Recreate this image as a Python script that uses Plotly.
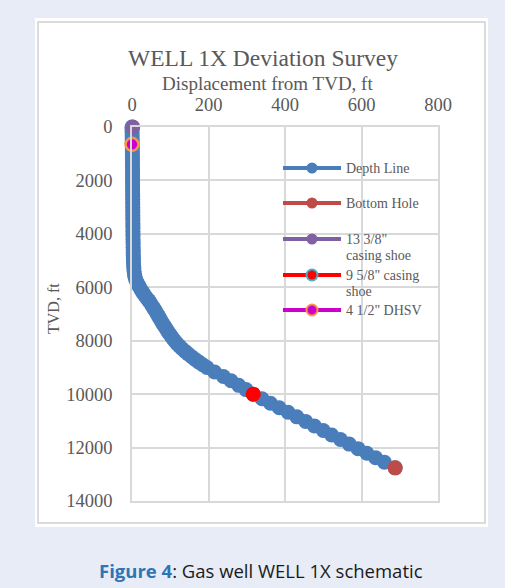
import plotly.graph_objects as go

# ---- survey data -------------------------------------------------------
tvd_ft = [0, 100, 200, 300, 400, 500, 600, 700, 800, 900, 1000,
          1100, 1200, 1300, 1400, 1500, 1600, 1700, 1800, 1900, 2000,
          2100, 2200, 2300, 2400, 2500, 2600, 2700, 2800, 2900, 3000,
          3100, 3200, 3300, 3400, 3500, 3600, 3700, 3800, 3900, 4000,
          4100, 4200, 4300, 4400, 4500, 4600, 4700, 4800, 4900, 5000,
          5100, 5200, 5300, 5400, 5500,
          5600, 5700, 5800, 5900, 6000, 6100, 6200, 6300, 6400, 6500,
          6600, 6700, 6800, 6900, 7000, 7100, 7200, 7300, 7400, 7500,
          7600, 7700, 7800, 7900, 8000, 8100, 8200, 8300, 8400, 8500,
          8600, 8700, 8800, 8900, 9000,
          9170, 9340, 9500, 9670, 9830, 10000,
          10170, 10340, 10510, 10680, 10850, 11020, 11190, 11360, 11530,
          11700, 11870, 12040, 12210, 12380, 12550,
          12760]
displacement_ft = [0, 0.1, 0.2, 0.3, 0.4, 0.5, 0.6, 0.7, 0.8, 0.9, 1.0,
                   1.1, 1.1, 1.2, 1.2, 1.3, 1.3, 1.4, 1.4, 1.5, 1.5,
                   1.6, 1.6, 1.7, 1.7, 1.8, 1.8, 1.9, 1.9, 2.0, 2.0,
                   2.1, 2.1, 2.2, 2.2, 2.3, 2.3, 2.4, 2.4, 2.5, 2.5,
                   2.6, 2.7, 2.8, 2.9, 3.0, 3.1, 3.2, 3.3, 3.5, 3.7,
                   4.0, 4.4, 4.9, 5.5, 6.3,
                   7.5, 9.5, 12.5, 16, 20, 24, 28.5, 33, 38.5, 44,
                   48.5, 53, 57.5, 62, 66, 70, 74, 78, 82.5, 87,
                   91.5, 96, 101, 106, 111.5, 117, 124, 131, 139, 147,
                   156, 165, 175, 185, 196,
                   216, 239, 259, 279, 298, 317,
                   340, 362, 385, 408, 431, 454, 477, 500, 522,
                   545, 568, 591, 614, 637, 660,
                   688]

# key depths (displacement, TVD)
bottom_hole = ([688], [12760])
shoe_13_38 = ([2], [0])
shoe_9_58 = ([317], [10000])
dhsv_4_12 = ([0], [650])

x_ticks = [0, 200, 400, 600, 800]
y_ticks = [0, 2000, 4000, 6000, 8000, 10000, 12000, 14000]

legend_names = ["Depth Line", "Bottom Hole", "13 3/8\"<br>casing shoe",
                "9 5/8\" casing<br>shoe", "4 1/2\" DHSV"]

# ---- styling ------------------------------------------------------------
FW, FH = 505, 588
L, T, R, B = 132, 127, 438, 501          # plot area in pixels
PW, PH = R - L, B - T
SERIF = "Liberation Serif, Times New Roman, serif"
GREY_TXT = "#595959"
GRID = "#d9d9d9"

BLUE = "#4a7ebb"
BROWN = "#be4b48"
PURPLE = "#7f60a0"
RED = "#ff0000"
MAGENTA = "#cc00cc"
ORANGE = "#f79646"
CYAN = "#4bacc6"


def px(xp):
    return (xp - L) / PW


def py(yp):
    return (B - yp) / PH


fig = go.Figure()

fig.add_trace(go.Scatter(
    x=displacement_ft, y=tvd_ft, mode="lines+markers", name="Depth Line",
    line=dict(color=BLUE, width=4), marker=dict(color=BLUE, size=15),
    cliponaxis=False, showlegend=False))
fig.add_trace(go.Scatter(
    x=bottom_hole[0], y=bottom_hole[1], mode="lines+markers", name="Bottom Hole",
    line=dict(color=BROWN, width=4), marker=dict(color=BROWN, size=15),
    cliponaxis=False, showlegend=False))
fig.add_trace(go.Scatter(
    x=shoe_13_38[0], y=shoe_13_38[1], mode="lines+markers", name="13 3/8\" casing shoe",
    line=dict(color=PURPLE, width=4), marker=dict(color=PURPLE, size=15),
    cliponaxis=False, showlegend=False))
fig.add_trace(go.Scatter(
    x=shoe_9_58[0], y=shoe_9_58[1], mode="lines+markers", name="9 5/8\" casing shoe",
    line=dict(color=RED, width=4), marker=dict(color=RED, size=15),
    cliponaxis=False, showlegend=False))
fig.add_trace(go.Scatter(
    x=dhsv_4_12[0], y=dhsv_4_12[1], mode="lines+markers", name="4 1/2\" DHSV",
    line=dict(color=MAGENTA, width=4),
    marker=dict(color=MAGENTA, size=13, line=dict(color=ORANGE, width=2.5)),
    cliponaxis=False, showlegend=False))

shapes = []
annotations = []

# card background and frame
shapes.append(dict(type="rect", xref="paper", yref="paper", layer="below",
                   x0=px(35), x1=px(488), y0=py(527), y1=py(18),
                   fillcolor="white", line=dict(width=0)))
shapes.append(dict(type="rect", xref="paper", yref="paper", layer="below",
                   x0=px(38), x1=px(485), y0=py(523), y1=py(22),
                   fillcolor="white", line=dict(color="#d0d0d0", width=1.5)))

# legend block drawn inside the plot
legend_rows = [168, 203, 239, 275, 310]
legend_styles = [
    (BLUE, BLUE, None),
    (BROWN, BROWN, None),
    (PURPLE, PURPLE, None),
    (RED, RED, CYAN),
    (MAGENTA, MAGENTA, ORANGE),
]
for name, yrow, (lc, mc, edge) in zip(legend_names, legend_rows, legend_styles):
    shapes.append(dict(type="line", xref="paper", yref="paper",
                       x0=px(283), x1=px(341), y0=py(yrow), y1=py(yrow),
                       line=dict(color=lc, width=4)))
    shapes.append(dict(type="circle", xref="paper", yref="paper",
                       xsizemode="pixel", ysizemode="pixel",
                       xanchor=px(312), yanchor=py(yrow),
                       x0=-5.5, x1=5.5, y0=-5.5, y1=5.5,
                       fillcolor=mc,
                       line=dict(color=edge if edge else mc, width=2 if edge else 0)))
    for k, part in enumerate(name.split("<br>")):
        annotations.append(dict(
            xref="paper", yref="paper", x=px(344), y=py(yrow + k * 16.5),
            xanchor="left", yanchor="middle", showarrow=False, text=part,
            font=dict(family=SERIF, size=14, color=GREY_TXT)))

# axis titles
annotations.append(dict(xref="paper", yref="paper", x=px(267), y=py(83),
                        xanchor="center", yanchor="middle", showarrow=False,
                        text="Displacement from TVD, ft",
                        font=dict(family=SERIF, size=19, color=GREY_TXT)))
annotations.append(dict(xref="paper", yref="paper", x=px(53), y=py(308),
                        xanchor="center", yanchor="middle", showarrow=False,
                        textangle=-90, text="TVD, ft",
                        font=dict(family=SERIF, size=16, color=GREY_TXT)))

# figure caption
annotations.append(dict(xref="paper", yref="paper", x=px(261), y=py(570),
                        xanchor="center", yanchor="middle", showarrow=False,
                        text="<b><span style=\"color:#2e75b6\">Figure 4</span></b>"
                             ": Gas well WELL 1X schematic",
                        font=dict(family="Open Sans, sans-serif", size=18.5,
                                  color="#1a1a1a")))

fig.update_layout(
    width=FW, height=FH,
    margin=dict(l=L, r=FW - R, t=T, b=FH - B, pad=0),
    paper_bgcolor="#e8ecf6",
    plot_bgcolor="white",
    showlegend=False,
    title=dict(text="WELL 1X Deviation Survey", xref="paper", x=px(263),
               xanchor="center", yref="container", y=(FH - 58) / FH,
               yanchor="middle",
               font=dict(family=SERIF, size=23.5, color=GREY_TXT)),
    xaxis=dict(side="top", range=[0, 800], tickvals=x_ticks,
               ticktext=[str(v) for v in x_ticks],
               showgrid=True, gridcolor=GRID, gridwidth=1.5,
               zeroline=False, showline=True, linecolor=GRID, linewidth=1.5,
               mirror=True, ticks="", ticklabelstandoff=7,
               tickfont=dict(family=SERIF, size=18.5, color=GREY_TXT)),
    yaxis=dict(range=[14000, 0], tickvals=y_ticks,
               ticktext=[str(v) for v in y_ticks],
               showgrid=True, gridcolor=GRID, gridwidth=1.5,
               zeroline=False, showline=True, linecolor=GRID, linewidth=1.5,
               mirror=True, ticks="", ticklabelstandoff=14,
               tickfont=dict(family=SERIF, size=18.5, color=GREY_TXT)),
    shapes=shapes,
    annotations=annotations,
)

fig.write_html("out.html")
